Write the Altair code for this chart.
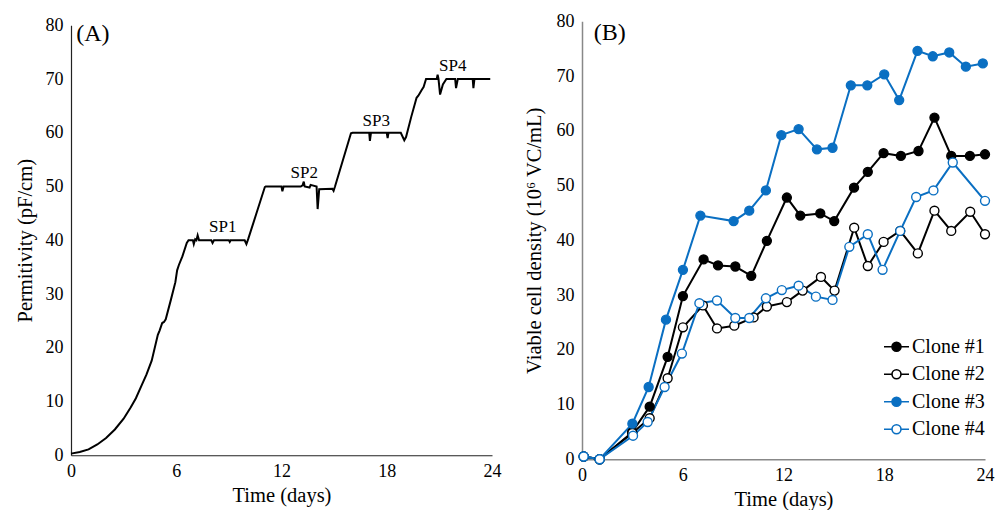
import altair as alt
import pandas as pd

SERIF = "Liberation Serif"
BLUE = "#0a6fc2"

# ---------------- Panel A: permittivity trace ----------------
a_day = [0.0, 0.5, 1.0, 1.5, 2.0, 2.5, 3.0, 3.15, 3.4, 3.7, 4.0, 4.3, 4.6, 4.95, 5.05,
         5.2, 5.3, 5.4, 5.7, 5.95, 6.05, 6.15, 6.35, 6.6, 6.7, 6.95, 7.0, 7.08, 7.15,
         7.22, 7.3, 8.0, 8.07, 8.15, 9.0, 9.05, 9.1, 9.9, 10.0, 10.1, 10.55, 11.05,
         11.1, 12.0, 12.05, 12.12, 13.1, 13.2, 13.27, 13.32, 13.6, 13.66, 14.0, 14.06,
         14.15, 14.9, 14.97, 15.05, 15.96, 16.05, 17.0, 17.04, 17.1, 18.0, 18.05, 18.1,
         18.8, 19.0, 19.1, 19.4, 19.7, 19.8, 20.0, 20.1, 20.24, 20.85, 20.9, 20.95,
         21.04, 21.2, 21.4, 21.9, 21.95, 22.05, 22.9, 22.94, 23.0, 23.9]
a_val = [0.3, 0.6, 1.1, 2.0, 3.2, 4.8, 6.8, 7.6, 8.9, 10.6, 12.8, 15.0, 17.6, 22.4, 23.2,
         24.6, 24.8, 25.3, 29.0, 32.2, 34.4, 35.4, 37.0, 39.5, 40.0, 40.0, 39.3, 40.2, 40.0,
         40.9, 40.0, 40.0, 39.5, 40.0, 40.0, 39.7, 40.0, 40.0, 39.3, 40.2, 44.8, 49.9,
         50.0, 50.0, 49.1, 50.0, 50.0, 50.2, 50.9, 50.0, 49.8, 50.3, 50.0, 45.8,
         49.5, 49.6, 49.2, 50.0, 59.9, 60.0, 60.0, 58.5, 60.0, 60.0, 59.0, 60.0,
         60.0, 58.6, 59.2, 63.0, 66.5, 66.9, 68.0, 68.5, 70.0, 70.0, 70.8, 70.0,
         67.1, 69.0, 70.0, 70.0, 68.3, 70.0, 70.0, 68.3, 70.0, 70.0]

sp_text = ["SP1", "SP2", "SP3", "SP4"]
sp_day = [8.65, 13.3, 17.4, 21.76]
sp_val = [42.4, 52.6, 62.2, 72.5]

# ---------------- Panel B: viable cell density ----------------
clone_names = ["Clone #1", "Clone #2", "Clone #3", "Clone #4"]
c1_day = [0.1, 1.05, 2.98, 4.03, 5.1, 6.01, 7.24, 8.1, 9.13, 10.08, 11.01, 12.2, 13.0,
          14.19, 15.02, 16.2, 17.02, 17.96, 18.99, 20.04, 20.99, 21.99, 23.1, 24.0]
c1_val = [0.5, 0.0, 4.9, 9.6, 18.7, 29.8, 36.5, 35.4, 35.2, 33.5, 39.9, 47.8, 44.5,
          44.9, 43.5, 49.6, 52.5, 55.9, 55.4, 56.3, 62.4, 55.4, 55.4, 55.7]
c2_day = [0.1, 1.05, 3.0, 4.03, 5.1, 6.01, 7.2, 8.04, 9.07, 10.22, 11.01, 12.2, 13.14,
          14.23, 15.04, 16.21, 17.02, 17.96, 18.95, 20.0, 20.99, 21.99, 23.12, 24.0]
c2_val = [0.5, 0.0, 4.8, 7.5, 14.8, 24.1, 28.1, 23.9, 24.4, 25.9, 27.9, 28.7, 30.8,
          33.3, 30.8, 42.3, 35.3, 39.7, 41.7, 37.6, 45.4, 41.7, 45.2, 41.1]
c3_day = [0.1, 1.05, 3.0, 3.97, 5.0, 6.01, 7.05, 9.03, 9.96, 10.95, 11.87, 12.9, 13.99,
          14.92, 16.01, 16.99, 18.0, 18.89, 19.98, 20.89, 21.87, 22.86, 23.87]
c3_val = [0.5, 0.0, 6.5, 13.2, 25.5, 34.6, 44.5, 43.5, 45.4, 49.1, 59.2, 60.3, 56.6,
          56.9, 68.3, 68.3, 70.3, 65.6, 74.6, 73.6, 74.3, 71.7, 72.3]
c4_day = [0.1, 1.05, 3.04, 3.91, 4.92, 5.95, 6.99, 8.04, 9.13, 9.96, 10.95, 11.9, 12.9,
          13.93, 14.92, 15.92, 17.02, 17.9, 18.95, 19.9, 20.93, 22.08, 24.0]
c4_val = [0.5, 0.0, 4.3, 6.8, 13.2, 19.3, 28.5, 29.0, 25.8, 25.8, 29.4, 30.9, 31.7,
          29.7, 29.1, 38.8, 41.1, 34.6, 41.7, 47.9, 49.1, 54.2, 47.2]

stroke_colors = ["black", "black", BLUE, BLUE]
fill_colors = ["black", "white", BLUE, "white"]

x_ticks = [0, 6, 12, 18, 24]
y_ticks = [0, 10, 20, 30, 40, 50, 60, 70, 80]


def x_axis(color, width):
    return alt.Axis(values=x_ticks, title="Time (days)", grid=False, ticks=False,
                    domainColor=color, domainWidth=width, labelFont=SERIF,
                    labelFontSize=18, labelColor="black", labelPadding=7,
                    labelFlush=False, titleFont=SERIF, titleFontSize=20.5,
                    titleFontWeight="normal", titleColor="black", titlePadding=5)


def y_axis(title, color, width, tpad):
    return alt.Axis(values=y_ticks, title=title, grid=False, ticks=False,
                    domainColor=color, domainWidth=width, labelFont=SERIF,
                    labelFontSize=18, labelColor="black", labelPadding=8,
                    labelFlush=False, titleFont=SERIF, titleFontSize=20.5,
                    titleFontWeight="normal", titleColor="black", titlePadding=tpad)


# ----- Panel A chart -----
dfA = pd.DataFrame({"day": a_day, "val": a_val})
xA = alt.X("day:Q", scale=alt.Scale(domain=[0, 24], nice=False), axis=x_axis("#222222", 1.2))
yA = alt.Y("val:Q", scale=alt.Scale(domain=[0, 80], nice=False),
           axis=y_axis("Permitivity (pF/cm)", "#222222", 1.2, 10))
lineA = alt.Chart(dfA).mark_line(color="black", strokeWidth=2).encode(x=xA, y=yA)

dfSP = pd.DataFrame({"day": sp_day, "val": sp_val, "t": sp_text})
textSP = alt.Chart(dfSP).mark_text(font=SERIF, fontSize=17, color="black").encode(
    x="day:Q", y="val:Q", text="t:N")

dfTagA = pd.DataFrame({"day": [0.3], "val": [78.4], "t": ["(A)"]})
tagA = alt.Chart(dfTagA).mark_text(font=SERIF, fontSize=24, color="black", align="left",
                                   baseline="middle").encode(x="day:Q", y="val:Q", text="t:N")

panelA = alt.layer(lineA, textSP, tagA).properties(width=421, height=430)

# ----- Panel B chart -----
rows = []
for name, days, vals in zip(clone_names, [c1_day, c2_day, c3_day, c4_day],
                            [c1_val, c2_val, c3_val, c4_val]):
    for d, v in zip(days, vals):
        rows.append({"clone": name, "day": d, "val": v})
dfB = pd.DataFrame(rows)

stroke_scale = alt.Scale(domain=clone_names, range=stroke_colors)
fill_scale = alt.Scale(domain=clone_names, range=fill_colors)

SYMBOL = ("M-1,0L-0.36,0M0.36,0L1,0M0.36,0A0.36,0.36,0,1,1,-0.36,0"
          "A0.36,0.36,0,1,1,0.36,0Z")
legend = alt.Legend(title=None, orient="none", legendX=301, legendY=312,
                    symbolType=SYMBOL, symbolSize=625, symbolStrokeWidth=1.6,
                    labelFont=SERIF, labelFontSize=20, labelColor="black",
                    labelOffset=2, rowPadding=3.5)

xB = alt.X("day:Q", scale=alt.Scale(domain=[0, 24], nice=False), axis=x_axis("#888888", 1.5))
yB = alt.Y("val:Q", scale=alt.Scale(domain=[0, 80], nice=False),
           axis=y_axis("Viable cell density (10⁶ VC/mL)", "#888888", 1.5, 12))

baseB = alt.Chart(dfB)
lineB = baseB.mark_line(strokeWidth=2).encode(
    x=xB, y=yB, stroke=alt.Stroke("clone:N", scale=stroke_scale, legend=legend),
    detail="clone:N")
ptsB = baseB.mark_point(shape="circle", size=80, opacity=1, strokeWidth=1.4).encode(
    x=xB, y=yB,
    stroke=alt.Stroke("clone:N", scale=stroke_scale, legend=legend),
    fill=alt.Fill("clone:N", scale=fill_scale, legend=legend))

dfTagB = pd.DataFrame({"day": [0.7], "val": [77.9], "t": ["(B)"]})
tagB = alt.Chart(dfTagB).mark_text(font=SERIF, fontSize=24, color="black", align="left",
                                   baseline="middle").encode(x="day:Q", y="val:Q", text="t:N")

panelB = alt.layer(lineB, ptsB, tagB).properties(width=403, height=438)

chart = alt.hconcat(panelA, panelB, spacing=23, center=True).resolve_scale(
    stroke="independent", fill="independent"
).properties(
    padding={"left": 15, "top": 12, "right": 5, "bottom": 5},
    background="white",
).configure_view(stroke=None)

chart.save("out.html", embed_options={"renderer": "svg", "actions": False})
